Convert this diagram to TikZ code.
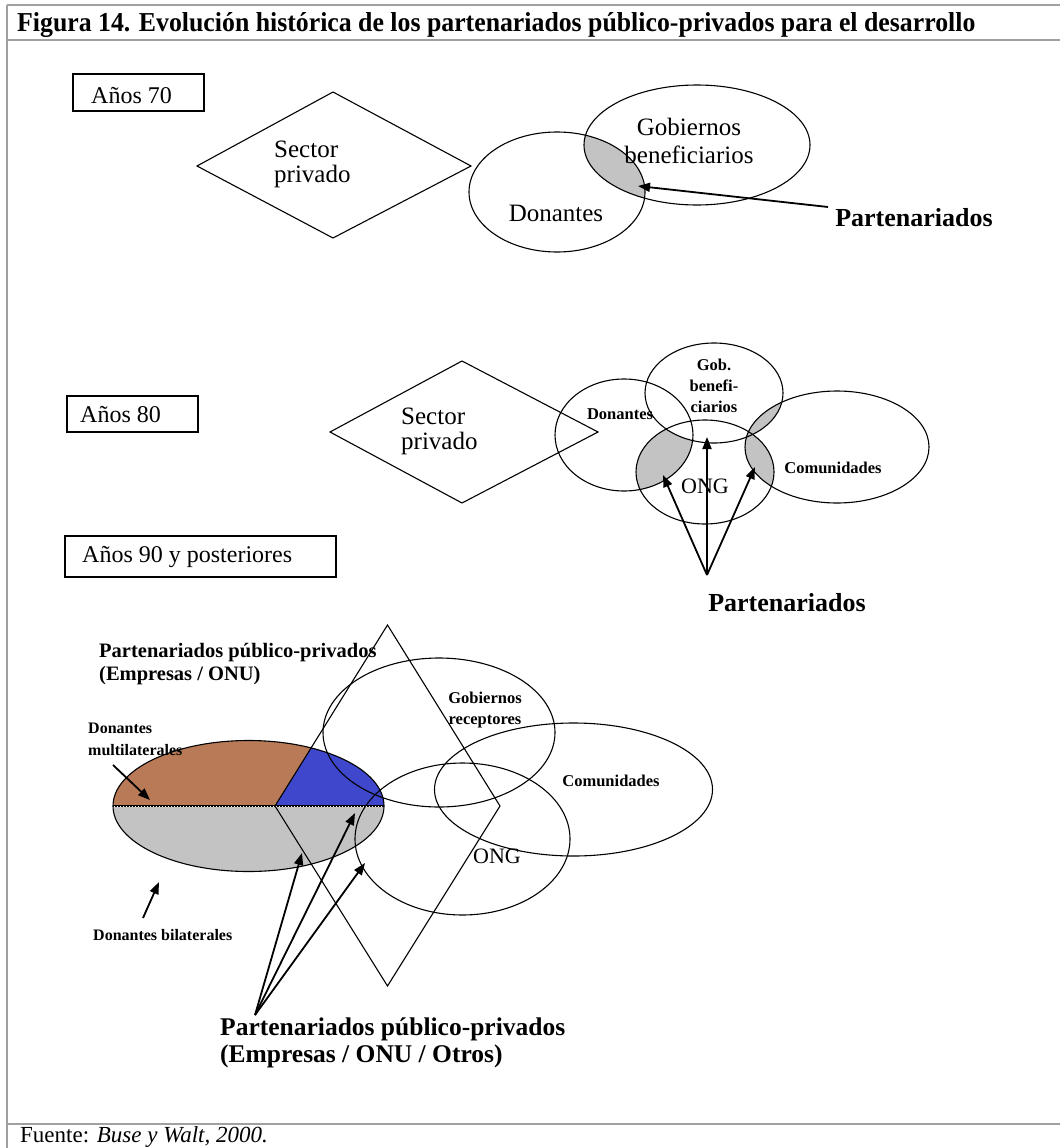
\documentclass[tikz,border=0pt]{standalone}
\usepackage{fontspec}
\setmainfont{Liberation Serif}
\usetikzlibrary{arrows.meta}
\definecolor{shadegray}{RGB}{195,195,195}
\definecolor{brownfill}{RGB}{185,122,87}
\definecolor{bluefill}{RGB}{63,72,204}
\definecolor{framegray}{RGB}{160,160,160}
\tikzset{
  outline/.style={draw, line width=1.1pt},
  arr/.style={line width=1.8pt, -{Triangle[length=12pt,width=9pt]}},
  yearbox/.style={draw, line width=1.4pt},
  yeartxt/.style={inner sep=0pt, anchor=base west, font=\fontsize{24}{28}\selectfont},
  lab/.style={inner sep=0pt, align=center, font=\fontsize{25}{28}\selectfont},
  labl/.style={inner sep=0pt, align=left, font=\fontsize{25}{25}\selectfont},
  ong/.style={inner sep=0pt, font=\fontsize{22}{26}\selectfont},
  smallb/.style={inner sep=0pt, align=center, font=\fontsize{16.5}{21}\selectfont\bfseries},
  smallbl/.style={inner sep=0pt, anchor=base west, font=\fontsize{16}{21}\selectfont\bfseries},
  bigb/.style={inner sep=0pt, font=\fontsize{26}{30}\selectfont\bfseries},
  ppb/.style={inner sep=0pt, anchor=base west, font=\fontsize{25.5}{30}\selectfont\bfseries},
  ppa/.style={inner sep=0pt, anchor=base west, font=\fontsize{20.5}{24}\selectfont\bfseries}
}
\begin{document}
\begin{tikzpicture}[x=1pt,y=-1pt]
\useasboundingbox (0,0) rectangle (1060,1148);
% ---------------- frame ----------------
\draw[framegray, line width=2pt] (7,5) -- (1060,5);
\draw[framegray, line width=2pt] (7,5) -- (7,1148);
\draw[framegray, line width=2pt] (7,40) -- (1060,40);
\draw[framegray, line width=2pt] (7,1124) -- (1060,1124);
\node[anchor=base west, inner sep=0pt] (title) at (17,32)
  {\resizebox{958pt}{19pt}{\bfseries Figura 14. Evolución histórica de los partenariados público-privados para el desarrollo}};
\node[anchor=base west, inner sep=0pt, font=\fontsize{23}{26}\selectfont] (fuente) at (20,1142)
  {Fuente: \textit{Buse y Walt, 2000.}};

% ---------------- Años 70 ----------------
\draw[yearbox] (73,74) rectangle (204,111);
\node[yeartxt] (y70) at (91,103) {Años 70};
\begin{scope}
  \clip (557,192) ellipse [x radius=88, y radius=60];
  \fill[shadegray] (697,145) ellipse [x radius=113, y radius=60];
\end{scope}
\draw[outline] (557,192) ellipse [x radius=88, y radius=60];
\draw[outline] (697,145) ellipse [x radius=113, y radius=60];
\draw[outline] (197,166) -- (333,92) -- (471,166) -- (333,238) -- cycle;
\node[labl, anchor=west] (sp70) at (274,164) {Sector\\privado};
\node[lab] (don70) at (556,213) {Donantes};
\node[lab, font=\fontsize{25}{28}\selectfont] (gob70) at (689,141) {Gobiernos\\beneficiarios};
\node[bigb] (p70) at (914,218) {Partenariados};
\coordinate (a70s) at (828,207);
\coordinate (a70t) at (638,186);
\draw[arr] (a70s) -- (a70t);

% ---------------- Años 80 ----------------
\draw[yearbox] (67,396) rectangle (198,432);
\node[yeartxt] (y80) at (80,422) {Años 80};
\begin{scope}
  \clip (624,435) ellipse [x radius=69, y radius=56];
  \fill[shadegray] (705,472) ellipse [x radius=69, y radius=52];
\end{scope}
\begin{scope}
  \clip (714,393) ellipse [x radius=69, y radius=50];
  \fill[white] (705,472) ellipse [x radius=69, y radius=52];
\end{scope}
\begin{scope}
  \clip (714,393) ellipse [x radius=69, y radius=50];
  \fill[shadegray] (837,447) ellipse [x radius=92, y radius=56];
\end{scope}
\begin{scope}
  \clip (705,472) ellipse [x radius=69, y radius=52];
  \fill[shadegray] (837,447) ellipse [x radius=92, y radius=56];
\end{scope}
\draw[outline] (330,432) -- (462,361) -- (598,432) -- (462,503) -- cycle;
\draw[outline] (624,435) ellipse [x radius=69, y radius=56];
\draw[outline] (714,393) ellipse [x radius=69, y radius=50];
\draw[outline] (705,472) ellipse [x radius=69, y radius=52];
\draw[outline] (837,447) ellipse [x radius=92, y radius=56];
\node[labl, anchor=west] (sp80) at (401,431) {Sector\\privado};
\node[smallb] (don80) at (620,414) {Donantes};
\node[smallb] (gob80) at (714,386) {Gob.\\benefi-\\ciarios};
\node[ong] (ong80) at (705,486) {ONG};
\node[smallb] (com80) at (833,468) {Comunidades};
\node[bigb] (p80) at (787,603) {Partenariados};
\coordinate (apex80) at (707,575);
\coordinate (t80a) at (663,475);
\coordinate (t80b) at (707,437);
\coordinate (t80c) at (755,467);
\draw[arr] (apex80) -- (t80a);
\draw[arr] (apex80) -- (t80b);
\draw[arr] (apex80) -- (t80c);

% ---------------- Años 90 ----------------
\draw[yearbox] (65,536) rectangle (336,577);
\node[yeartxt] (y90) at (82,562) {Años 90 y posteriores};
\begin{scope}
  \clip (248.5,806) ellipse [x radius=135.5, y radius=65.5];
  \fill[brownfill] (100,700) rectangle (400,806);
  \fill[bluefill] (275,806) -- (387.5,625) -- (420,625) -- (420,806) -- cycle;
  \fill[shadegray] (100,806) rectangle (400,900);
\end{scope}
\draw[line width=1.8pt] (113,806) -- (384,806);
\draw[white, line width=0.9pt, dash pattern=on 1.2pt off 1.8pt] (114,806) -- (383,806);
\draw[outline] (248.5,806) ellipse [x radius=135.5, y radius=65.5];
\draw[outline] (439,732.5) ellipse [x radius=116, y radius=74.5];
\draw[outline] (573.5,789.5) ellipse [x radius=139, y radius=66.5];
\draw[outline] (462.5,839) ellipse [x radius=107.5, y radius=76];
\draw[outline] (387.5,625) -- (500,806) -- (387.5,986) -- (275,806) -- cycle;
\node[ppa] (ppA1) at (99,657) {Partenariados público-privados};
\node[ppa] (ppA2) at (99,680) {(Empresas / ONU)};
\node[smallbl] (dm1) at (88,733) {Donantes};
\node[smallbl] (dm2) at (88,755) {multilaterales};
\node[smallbl] (db) at (93,940) {Donantes bilaterales};
\node[smallb] (gob90) at (485,710) {Gobiernos\\receptores};
\node[smallb] (com90) at (611,781) {Comunidades};
\node[ong] (ong90) at (497,856) {ONG};
\node[ppb] (ppB1) at (220,1035) {Partenariados público-privados};
\node[ppb] (ppB2) at (220,1062) {(Empresas / ONU / Otros)};
\coordinate (dmS) at (113,765);
\coordinate (dmT) at (150,800);
\coordinate (dbS) at (143,918);
\coordinate (dbT) at (159,882);
\draw[arr] (dmS) -- (dmT);
\draw[arr] (dbS) -- (dbT);
\coordinate (apex90) at (255,1015);
\coordinate (t90a) at (302,853);
\coordinate (t90b) at (355,813);
\coordinate (t90c) at (365,863);
\draw[arr] (apex90) -- (t90a);
\draw[arr] (apex90) -- (t90b);
\draw[arr] (apex90) -- (t90c);
\end{tikzpicture}
\end{document}
